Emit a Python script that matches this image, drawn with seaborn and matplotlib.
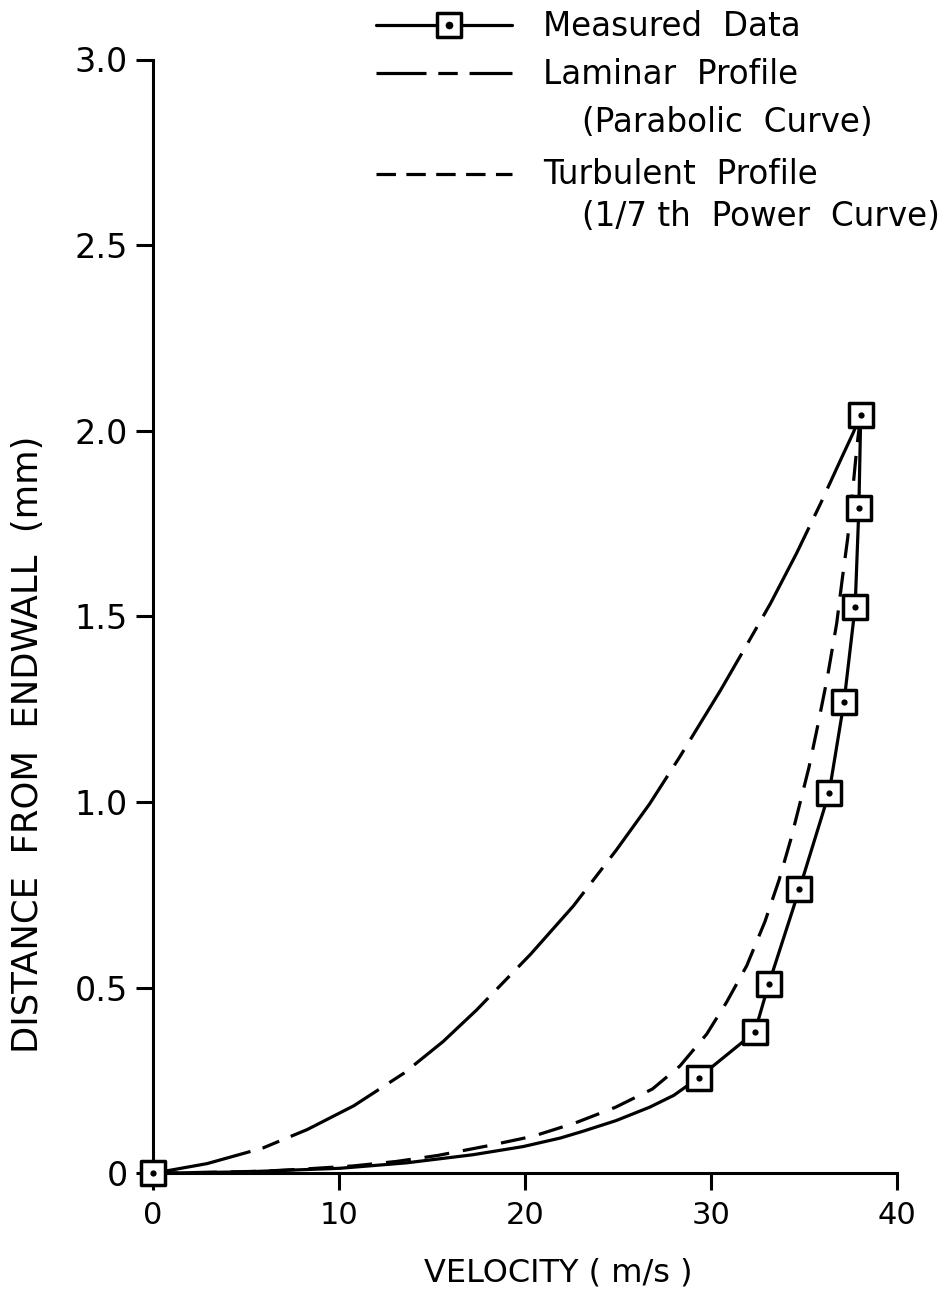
import matplotlib
matplotlib.use("Agg")
import matplotlib.pyplot as plt
from matplotlib.lines import Line2D
from matplotlib.markers import MarkerStyle
import pandas as pd
import seaborn as sns

# Measured boundary-layer traverse (velocity in m/s, distance in mm)
measured_velocity = [0.0, 29.35, 32.35, 33.1, 34.75, 36.35, 37.15, 37.75, 37.95, 38.05]
measured_distance = [0.0, 0.258, 0.380, 0.509, 0.765, 1.025, 1.269, 1.526, 1.791, 2.043]

# Faired curve through the measured data close to the wall
fit_velocity = [0.0, 5.0, 10.05, 13.6, 17.2, 19.9, 21.9, 23.1, 24.9, 26.7, 28.0]
fit_distance = [0.0, 0.004, 0.0135, 0.028, 0.05, 0.072, 0.095, 0.113, 0.142, 0.178, 0.21]

# Laminar (parabolic) profile
laminar_velocity = [0.0, 2.9, 5.9, 8.3, 10.8, 13.5, 15.6, 17.4, 20.3, 22.6, 24.9,
                    26.7, 28.3, 30.5, 32.0, 33.2, 34.6, 35.9, 37.0, 37.65, 38.05]
laminar_distance = [0.0, 0.026, 0.068, 0.118, 0.182, 0.270, 0.355, 0.44, 0.59, 0.72, 0.87,
                    0.995, 1.12, 1.30, 1.43, 1.535, 1.67, 1.805, 1.925, 1.995, 2.043]

# Turbulent (1/7th power) profile
turbulent_velocity = [0.0, 4.0, 6.1, 8.3, 10.8, 13.1, 15.3, 18.0, 20.45, 22.72, 24.87, 26.85,
                      28.33, 29.77, 30.84, 31.92, 32.9, 33.66, 34.3, 34.84, 35.27, 35.72,
                      36.24, 36.76, 37.04, 37.35, 37.6, 37.85, 38.05]
turbulent_distance = [0.0, 0.0035, 0.006, 0.012, 0.02, 0.032, 0.048, 0.074, 0.10, 0.136, 0.178, 0.227,
                      0.289, 0.375, 0.461, 0.559, 0.678, 0.79, 0.901, 1.008, 1.094, 1.201,
                      1.331, 1.482, 1.594, 1.711, 1.83, 1.96, 2.043]

x_ticks = [0, 10, 20, 30, 40]
x_tick_labels = ["0", "10", "20", "30", "40"]
y_ticks = [0, 0.5, 1.0, 1.5, 2.0, 2.5, 3.0]
y_tick_labels = ["0", "0.5", "1.0", "1.5", "2.0", "2.5", "3.0"]

legend_labels = ["Measured  Data", "Laminar  Profile", "(Parabolic  Curve)",
                 "Turbulent  Profile", "(1/7 th  Power  Curve)"]

sns.set_style("ticks")
plt.rcParams["font.family"] = ["DejaVu Sans"]
plt.rcParams["lines.scale_dashes"] = False
for key in ("text.color", "axes.labelcolor", "xtick.color", "ytick.color", "axes.edgecolor"):
    plt.rcParams[key] = "black"

W, H = 950, 1292
fig = plt.figure(figsize=(W / 100, H / 100), dpi=100)
fig.patch.set_facecolor("white")

# axes box in pixel terms: left spine, x=40 end, y=0 and y=3.0 levels
x0, x1, y_top, y_bot = 153, 897, 59.5, 1173.3
ax = fig.add_axes([x0 / W, 1 - y_bot / H, (x1 - x0) / W, (y_bot - y_top) / H])
ax.set_facecolor("white")

LW = 2.3
lam_dash = (0, (72, 9, 13, 9))
turb_dash = (0, (18, 10))
MS, MEW, DOT = 17.5, 2.5, 4.5

fit_df = pd.DataFrame({
    "velocity": fit_velocity + measured_velocity[1:],
    "distance": fit_distance + measured_distance[1:],
})
lam_df = pd.DataFrame({"velocity": laminar_velocity, "distance": laminar_distance})
turb_df = pd.DataFrame({"velocity": turbulent_velocity, "distance": turbulent_distance})
meas_df = pd.DataFrame({"velocity": measured_velocity, "distance": measured_distance})

sns.lineplot(data=lam_df, x="velocity", y="distance", sort=False, estimator=None,
             color="black", lw=LW, linestyle=lam_dash, ax=ax, legend=False)
sns.lineplot(data=turb_df, x="velocity", y="distance", sort=False, estimator=None,
             color="black", lw=LW, linestyle=turb_dash, ax=ax, legend=False)
sns.lineplot(data=fit_df, x="velocity", y="distance", sort=False, estimator=None,
             color="black", lw=LW, ax=ax, legend=False)

square = MarkerStyle("s", joinstyle="round")
sns.lineplot(data=meas_df, x="velocity", y="distance", sort=False, estimator=None,
             linestyle="", marker=square, markersize=MS, markerfacecolor="white",
             markeredgecolor="black", markeredgewidth=MEW, ax=ax, legend=False,
             clip_on=False, zorder=5)
sns.lineplot(data=meas_df, x="velocity", y="distance", sort=False, estimator=None,
             linestyle="", marker="o", markersize=DOT, markerfacecolor="black",
             markeredgecolor="black", markeredgewidth=0, ax=ax, legend=False,
             clip_on=False, zorder=6)

ax.set_xlim(0, 40)
ax.set_ylim(0, 3.0)
ax.set_xticks(x_ticks)
ax.set_xticklabels(x_tick_labels)
ax.set_yticks(y_ticks)
ax.set_yticklabels(y_tick_labels)

for side in ("top", "right"):
    ax.spines[side].set_visible(False)
for side in ("left", "bottom"):
    ax.spines[side].set_linewidth(2.2)
    ax.spines[side].set_color("black")

ax.tick_params(axis="both", direction="out", length=12, width=2.2, color="black",
               labelcolor="black")
ax.tick_params(axis="x", labelsize=22, pad=8)
ax.tick_params(axis="y", labelsize=24, pad=6)

ax.set_xlabel("VELOCITY ( m/s )", fontsize=23)
ax.set_ylabel("DISTANCE  FROM  ENDWALL  (mm)", fontsize=25.5)
ax.xaxis.set_label_coords((558 - x0) / (x1 - x0), (y_bot - 1258) / (y_bot - y_top))
ax.yaxis.set_label_coords((45 - x0) / (x1 - x0), (y_bot - 744) / (y_bot - y_top))


# legend drawn in figure pixel space
def fpx(x, y):
    return x / W, 1 - y / H


def key_line(xa, xb, y, **kw):
    (fa, fy), (fb, _) = fpx(xa, y), fpx(xb, y)
    fig.add_artist(Line2D([fa, fb], [fy, fy], transform=fig.transFigure,
                          color="black", lw=LW, **kw))


key_l, key_r = 376, 512
key_line(key_l, key_r, 25)
mx, my = fpx(449, 25)
fig.add_artist(Line2D([mx], [my], transform=fig.transFigure, linestyle="",
                      marker=square, markersize=MS, markerfacecolor="white",
                      markeredgecolor="black", markeredgewidth=MEW))
fig.add_artist(Line2D([mx], [my], transform=fig.transFigure, linestyle="",
                      marker="o", markersize=DOT, color="black"))
key_line(key_l, key_r, 73, linestyle=(0, (36, 8.5, 14, 8.5)))
key_line(key_l, key_r, 174, linestyle=(0, (14, 7.5)))

text_rows = [(543, 27), (543, 74), (582, 123), (543, 174), (582, 217)]
for label, (tx, ty) in zip(legend_labels, text_rows):
    fx, fy = fpx(tx, ty)
    fig.text(fx, fy, label, fontsize=23.5, ha="left", va="center", color="black")

fig.savefig("out.png", dpi=100, facecolor="white")
